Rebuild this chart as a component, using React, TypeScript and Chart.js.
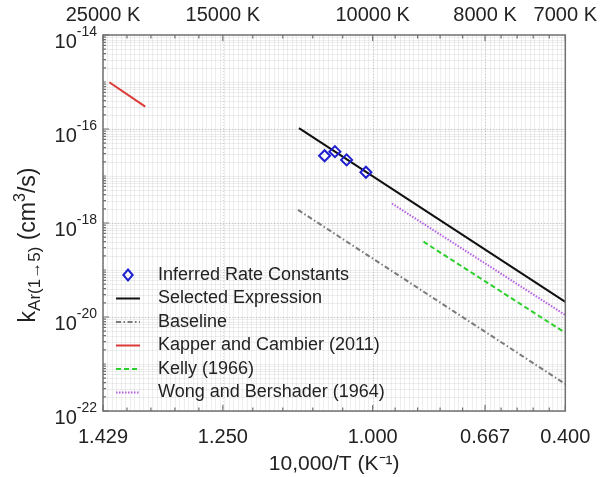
import React, { useEffect, useRef } from 'react';
import { Chart, registerables } from 'chart.js';

Chart.register(...registerables);

const FONT = '"Liberation Sans", Arial, Helvetica, sans-serif';

// x axis values are 10,000/T
const xMin = 0.4;
const xMax = 1.4286;
const xTickValues = [0.4, 0.6667, 1.0, 1.25, 1.4286];
const bottomTickLabels = ['1.429', '1.250', '1.000', '0.667', '0.400'];
const topTickLabels = ['25000 K', '15000 K', '10000 K', '8000 K', '7000 K'];
const yMinExp = -22;
const yMaxExp = -14;
const yTickExponents = [-14, -16, -18, -20, -22];

// series
const inferredX = [0.893, 0.916, 0.942, 0.985];
const inferredK = [2.7e-17, 3.3e-17, 2.2e-17, 1.2e-17];
const selectedX = [0.836, 1.4286];
const selectedK = [1.04e-16, 2.1e-20];
const baselineX = [0.834, 1.4286];
const baselineK = [1.9e-18, 3.75e-22];
const kapperX = [0.414, 0.494];
const kapperK = [9.9e-16, 3.0e-16];
const kellyX = [1.113, 1.4286];
const kellyK = [4.0e-19, 4.6e-21];
const wongX = [1.043, 1.4286];
const wongK = [2.6e-18, 1.1e-20];

const seriesLabels = [
  'Inferred Rate Constants',
  'Selected Expression',
  'Baseline',
  'Kapper and Cambier (2011)',
  'Kelly (1966)',
  'Wong and Bershader (1964)',
];

const pts = (xs: number[], ys: number[]) => xs.map((x, i) => ({ x, y: ys[i] }));

const decorPlugin = {
  id: 'decor',
  beforeDatasetsDraw(chart: any) {
    const { ctx, chartArea: a, scales } = chart;
    const xs = scales.x;
    const ys = scales.y;
    ctx.save();
    ctx.lineWidth = 1;
    // fine grid
    ctx.strokeStyle = 'rgba(0,0,0,0.065)';
    ctx.setLineDash([]);
    ctx.beginPath();
    for (let i = 1; ; i++) {
      const v = xMin + i * 0.01;
      if (v >= xMax) break;
      const px = Math.round(xs.getPixelForValue(v)) + 0.5;
      ctx.moveTo(px, a.top);
      ctx.lineTo(px, a.bottom);
    }
    for (let e = yMinExp; e < yMaxExp; e++) {
      for (let m = 1; m <= 9; m++) {
        const py = Math.round(ys.getPixelForValue(m * Math.pow(10, e))) + 0.5;
        ctx.moveTo(a.left, py);
        ctx.lineTo(a.right, py);
      }
    }
    ctx.stroke();
    // major grid
    ctx.strokeStyle = 'rgba(0,0,0,0.16)';
    ctx.setLineDash([1, 2]);
    ctx.beginPath();
    xTickValues.forEach((v) => {
      const px = Math.round(xs.getPixelForValue(v)) + 0.5;
      ctx.moveTo(px, a.top);
      ctx.lineTo(px, a.bottom);
    });
    yTickExponents.forEach((e) => {
      const py = Math.round(ys.getPixelForValue(Math.pow(10, e))) + 0.5;
      ctx.moveTo(a.left, py);
      ctx.lineTo(a.right, py);
    });
    ctx.stroke();
    ctx.restore();
  },
  afterDraw(chart: any) {
    const { ctx, chartArea: a, scales } = chart;
    const xs = scales.x;
    const ys = scales.y;
    ctx.save();
    // frame
    ctx.setLineDash([]);
    ctx.strokeStyle = '#707070';
    ctx.lineWidth = 1.5;
    ctx.strokeRect(a.left, a.top, a.right - a.left, a.bottom - a.top);
    // inward tick marks on x (top and bottom)
    ctx.lineWidth = 1.2;
    ctx.beginPath();
    for (let i = 0; i < xTickValues.length; i++) {
      const v = xTickValues[i];
      const px = xs.getPixelForValue(v);
      ctx.moveTo(px, a.top);
      ctx.lineTo(px, a.top + 6);
      ctx.moveTo(px, a.bottom);
      ctx.lineTo(px, a.bottom - 6);
      if (i < xTickValues.length - 1) {
        const step = (xTickValues[i + 1] - v) / 5;
        for (let k = 1; k < 5; k++) {
          const mx = xs.getPixelForValue(v + k * step);
          ctx.moveTo(mx, a.top);
          ctx.lineTo(mx, a.top + 3.5);
          ctx.moveTo(mx, a.bottom);
          ctx.lineTo(mx, a.bottom - 3.5);
        }
      }
    }
    // inward ticks on y (left)
    for (let e = yMinExp; e <= yMaxExp; e++) {
      for (let m = 1; m <= 9; m++) {
        if (e === yMaxExp && m > 1) break;
        const py = ys.getPixelForValue(m * Math.pow(10, e));
        const len = m === 1 && yTickExponents.includes(e) ? 6 : 3;
        ctx.moveTo(a.left, py);
        ctx.lineTo(a.left + len, py);
      }
    }
    ctx.stroke();

    // y tick labels 10^n
    ctx.fillStyle = '#222';
    ctx.textBaseline = 'alphabetic';
    ctx.textAlign = 'left';
    yTickExponents.forEach((e) => {
      const py = ys.getPixelForValue(Math.pow(10, e));
      const sup = String(e);
      ctx.font = `14px ${FONT}`;
      const wSup = ctx.measureText(sup).width;
      ctx.font = `20px ${FONT}`;
      const wBase = ctx.measureText('10').width;
      const right = a.left - 6;
      ctx.fillText('10', right - wSup - wBase, py + 13);
      ctx.font = `14px ${FONT}`;
      ctx.fillText(sup, right - wSup, py + 1);
    });

    // y axis title with sub/superscripts
    const parts = [
      { t: 'k', size: 23, dy: 0 },
      { t: 'Ar(1\u21925)', size: 17, dy: 5 },
      { t: ' (cm', size: 23, dy: 0 },
      { t: '3', size: 16, dy: -10 },
      { t: '/s)', size: 23, dy: 0 },
    ];
    let total = 0;
    const widths = parts.map((p) => {
      ctx.font = `${p.size}px ${FONT}`;
      const w = ctx.measureText(p.t).width;
      total += w;
      return w;
    });
    ctx.translate(35, 245);
    ctx.rotate(-Math.PI / 2);
    let cx = -total / 2;
    parts.forEach((p, i) => {
      ctx.font = `${p.size}px ${FONT}`;
      ctx.fillText(p.t, cx, p.dy);
      cx += widths[i];
    });
    ctx.setTransform(1, 0, 0, 1, 0, 0);

    // legend
    const rowH = 23.5;
    const n = chart.data.datasets.length;
    const sx0 = a.left + 13;
    const sx1 = a.left + 37;
    const tx = a.left + 55;
    ctx.font = `18px ${FONT}`;
    ctx.textBaseline = 'middle';
    chart.data.datasets.forEach((ds: any, i: number) => {
      const ry = a.bottom - 18.5 - (n - 1 - i) * rowH;
      ctx.save();
      if (ds.showLine) {
        ctx.strokeStyle = ds.borderColor;
        ctx.lineWidth = ds.borderWidth;
        ctx.setLineDash(ds.borderDash || []);
        ctx.beginPath();
        ctx.moveTo(sx0, ry);
        ctx.lineTo(sx1, ry);
        ctx.stroke();
      } else {
        const r = ds.pointRadius;
        const c = (sx0 + sx1) / 2;
        ctx.strokeStyle = ds.pointBorderColor;
        ctx.lineWidth = ds.pointBorderWidth;
        ctx.beginPath();
        ctx.moveTo(c, ry - r);
        ctx.lineTo(c + r * 0.85, ry);
        ctx.lineTo(c, ry + r);
        ctx.lineTo(c - r * 0.85, ry);
        ctx.closePath();
        ctx.stroke();
      }
      ctx.restore();
      ctx.fillStyle = '#222';
      ctx.fillText(ds.label, tx, ry);
    });
    ctx.restore();
  },
};

export default function App() {
  const ref = useRef<HTMLCanvasElement>(null);
  useEffect(() => {
    if (!ref.current) return;
    const lineDs = (label: string, data: any, color: string, dash: number[], width = 2) => ({
      label,
      data,
      showLine: true,
      borderColor: color,
      backgroundColor: color,
      borderWidth: width,
      borderDash: dash,
      pointRadius: 0,
      pointHoverRadius: 0,
    });
    const chart = new Chart(ref.current, {
      type: 'scatter',
      data: {
        datasets: [
          {
            label: seriesLabels[0],
            data: pts(inferredX, inferredK),
            showLine: false,
            pointStyle: 'rectRot',
            pointRadius: 5.5,
            pointBorderWidth: 2,
            pointBorderColor: '#1f1fd2',
            pointBackgroundColor: 'rgba(0,0,0,0)',
          } as any,
          lineDs(seriesLabels[1], pts(selectedX, selectedK), '#111111', []),
          lineDs(seriesLabels[2], pts(baselineX, baselineK), '#7a7a7a', [5, 2.5, 1.5, 2.5]),
          lineDs(seriesLabels[3], pts(kapperX, kapperK), '#dc3a36', []),
          lineDs(seriesLabels[4], pts(kellyX, kellyK), '#2ccf2c', [5, 3]),
          lineDs(seriesLabels[5], pts(wongX, wongK), '#b65ee6', [1.5, 1.5]),
        ],
      },
      options: {
        animation: false,
        responsive: false,
        maintainAspectRatio: false,
        events: [],
        layout: { padding: { left: 0, right: 35, top: 0, bottom: 0 } },
        plugins: {
          legend: { display: false },
          tooltip: { enabled: false },
          title: { display: false },
        },
        scales: {
          x: {
            type: 'linear',
            position: 'bottom',
            min: xMin,
            max: xMax,
            afterBuildTicks: (s: any) => {
              s.ticks = xTickValues.map((v) => ({ value: v }));
            },
            afterFit: (s: any) => {
              s.height = 66;
            },
            grid: { display: false, drawTicks: false },
            border: { display: false },
            ticks: {
              autoSkip: false,
              maxRotation: 0,
              padding: 14,
              color: '#222',
              font: { family: FONT, size: 20 },
              callback: (_v: any, i: number) => bottomTickLabels[i],
            },
            title: {
              display: true,
              text: '10,000/T (K\u207B\u00B9)',
              color: '#222',
              font: { family: FONT, size: 21 },
              padding: { top: 1, bottom: 0 },
            },
          },
          x2: {
            type: 'linear',
            position: 'top',
            min: xMin,
            max: xMax,
            afterBuildTicks: (s: any) => {
              s.ticks = xTickValues.map((v) => ({ value: v }));
            },
            afterFit: (s: any) => {
              s.height = 35;
            },
            grid: { display: false, drawTicks: false },
            border: { display: false },
            ticks: {
              autoSkip: false,
              maxRotation: 0,
              padding: 8,
              color: '#222',
              font: { family: FONT, size: 20 },
              callback: (_v: any, i: number) => topTickLabels[i],
            },
          },
          y: {
            type: 'logarithmic',
            position: 'left',
            min: Math.pow(10, yMinExp),
            max: Math.pow(10, yMaxExp),
            afterFit: (s: any) => {
              s.width = 103;
            },
            grid: { display: false, drawTicks: false },
            border: { display: false },
            ticks: { display: false },
          },
        },
      } as any,
      plugins: [decorPlugin],
    });
    return () => chart.destroy();
  }, []);
  return (
    <div style={{ position: 'absolute', left: 0, top: 0, width: 605, height: 477, background: '#fff' }}>
      <canvas ref={ref} width={605} height={477} style={{ width: 605, height: 477, display: 'block' }} />
    </div>
  );
}
